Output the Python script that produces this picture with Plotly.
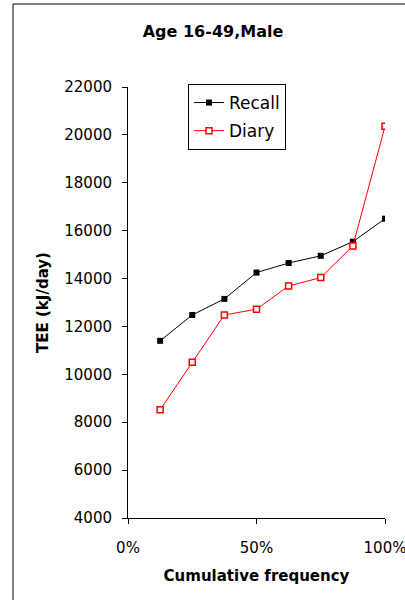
import plotly.graph_objects as go

x_freq = [0.125, 0.25, 0.375, 0.5, 0.625, 0.75, 0.875, 1.0]
recall = [11400, 12480, 13150, 14250, 14650, 14950, 15540, 16500]
diary = [8520, 10500, 12480, 12720, 13690, 14040, 15360, 20360]
y_ticks = [4000, 6000, 8000, 10000, 12000, 14000, 16000, 18000, 20000, 22000]
x_ticks = [0, 0.5, 1.0]
x_tick_labels = ["0%", "50%", "100%"]

FONT = "DejaVu Sans"

fig = go.Figure()
fig.add_trace(go.Scatter(
    x=x_freq, y=recall, name="Recall", mode="lines+markers",
    legendgroup="a",
    line=dict(color="black", width=1),
    marker=dict(symbol="square", size=6, color="black"),
))
fig.add_trace(go.Scatter(
    x=x_freq, y=diary, name="Diary", mode="lines+markers",
    legendgroup="b",
    line=dict(color="#ff0000", width=1),
    marker=dict(symbol="square", size=6, color="white", line=dict(color="#ff0000", width=1.5)),
))

L, R, T, B = 128, 20, 87, 82
W, H = 405, 600
pw, ph = W - L - R, H - T - B

def px(xp):
    return (xp - L) / pw

def py(yp):
    return (H - B - yp) / ph

fig.update_layout(
    width=W, height=H,
    margin=dict(l=L, r=R, t=T, b=B, autoexpand=False),
    paper_bgcolor="white", plot_bgcolor="white",
    font=dict(family=FONT, size=15, color="black"),
    title=dict(text="<b>Age 16-49,Male</b>", xref="container", x=213 / W, xanchor="center",
               yref="container", y=1 - 31 / H, yanchor="middle", font=dict(size=16)),
    showlegend=True,
    legend=dict(x=px(188), y=py(84), xanchor="left", yanchor="top",
                bordercolor="black", borderwidth=1, bgcolor="white",
                font=dict(size=17), traceorder="grouped", tracegroupgap=3),
    xaxis=dict(range=[0, 1], tickvals=x_ticks, ticktext=x_tick_labels,
               showgrid=False, zeroline=False, showline=True, linecolor="black",
               linewidth=1, ticks="outside", ticklen=5, tickcolor="black",
               ticklabelstandoff=11, ticklabeloverflow="allow", automargin=False,
               title=dict(text="<b>Cumulative frequency</b>", font=dict(size=15), standoff=14)),
    yaxis=dict(range=[4000, 22000], tickvals=y_ticks, tickformat="d",
               showgrid=False, zeroline=False, showline=True, linecolor="black",
               linewidth=1, ticks="outside", ticklen=5, tickcolor="black",
               ticklabelstandoff=7, automargin=False,
               title=dict(text="<b>TEE (kJ/day)</b>", font=dict(size=15), standoff=12)),
    shapes=[dict(type="rect", xref="paper", yref="paper",
                 x0=px(13), x1=px(420), y0=py(620), y1=py(4),
                 line=dict(color="black", width=1), fillcolor="rgba(0,0,0,0)",
                 layer="below")],
)

fig.write_html("out.html", config={"displayModeBar": False},
               post_script="document.body.style.margin='0';document.body.style.overflow='hidden';")
